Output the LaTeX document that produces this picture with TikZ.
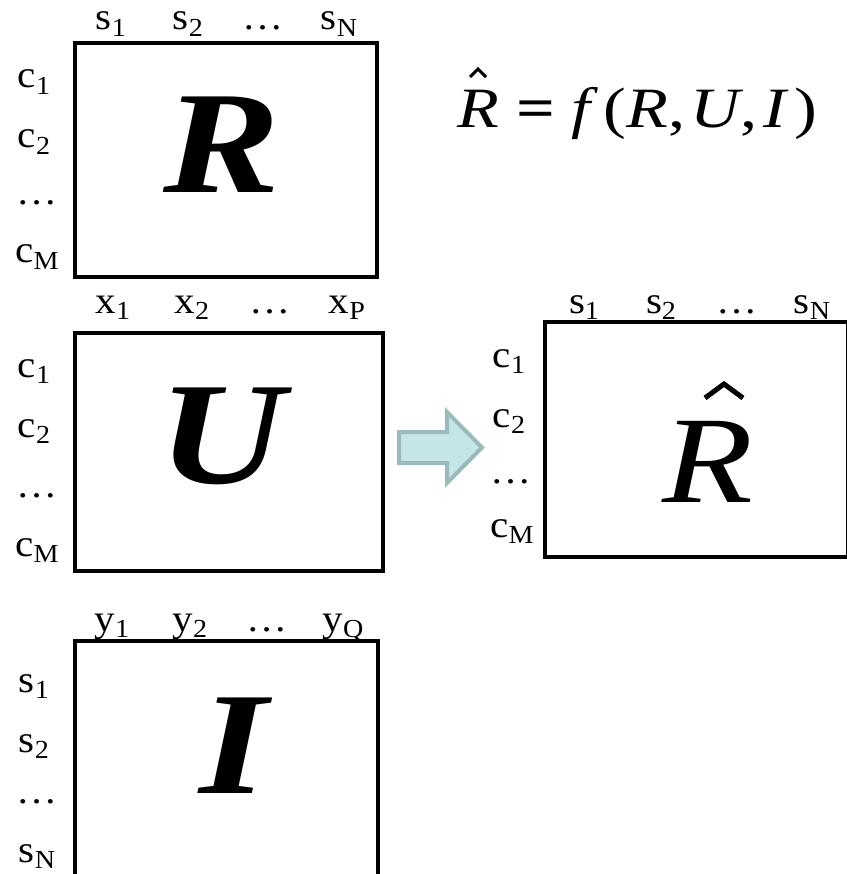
\documentclass[tikz,border=0pt]{standalone}
\usepackage{fontspec}
\setmainfont[FakeStretch=1.08]{Liberation Serif}
\newfontfamily\widefont[FakeStretch=1.2]{Liberation Serif}
\newcommand\lbl[2]{#1\raisebox{-0.17em}{\fontsize{26}{26}\selectfont #2}}
\tikzset{
  lab/.style={anchor=base, font=\fontsize{38}{38}\selectfont, inner sep=0pt},
  mat/.style={draw, line width=4.5pt, rectangle, inner sep=0pt},
  big/.style={font=\widefont\fontsize{146}{146}\selectfont\bfseries\itshape, anchor=base, inner sep=0pt},
  bigr/.style={font=\widefont\fontsize{124}{124}\selectfont\itshape, anchor=base, inner sep=0pt},
  hatmark/.style={line width=5pt, miter limit=10},
  blockarrow/.style={fill=arrowfill, draw=arrowline, line width=4pt, line join=miter}
}
\definecolor{arrowfill}{HTML}{C5E5E8}
\definecolor{arrowline}{HTML}{9DB9BC}
\begin{document}
\begin{tikzpicture}[x=1pt, y=-1pt]
\useasboundingbox (0,0) rectangle (846,874);
% R matrix
\node[mat, minimum width=302pt, minimum height=234pt] (Rbox) at (226,160) {};
\node[big] (Rl) at (222,193) {R};
\node[lab] (Rs1) at (111,30) {\lbl{s}{1}};
\node[lab] (Rs2) at (188,30) {\lbl{s}{2}};
\node[lab] (Rsd) at (263,30) {\dots};
\node[lab] (RsN) at (339,30) {\lbl{s}{N}};
\node[lab] (Rc1) at (34,88) {\lbl{c}{1}};
\node[lab] (Rc2) at (34,148) {\lbl{c}{2}};
\node[lab] (Rcd) at (37,205) {\dots};
\node[lab] (RcM) at (37,263) {\lbl{c}{M}};
% U matrix
\node[mat, minimum width=308pt, minimum height=238pt] (Ubox) at (229,452) {};
\node[big] (Ul) at (222,483) {U};
\node[lab] (Ux1) at (113,313) {\lbl{x}{1}};
\node[lab] (Ux2) at (192,313) {\lbl{x}{2}};
\node[lab] (Uxd) at (270,313) {\dots};
\node[lab] (UxP) at (347,313) {\lbl{x}{P}};
\node[lab] (Uc1) at (34,377) {\lbl{c}{1}};
\node[lab] (Uc2) at (34,437) {\lbl{c}{2}};
\node[lab] (Ucd) at (37,497) {\dots};
\node[lab] (UcM) at (37,556) {\lbl{c}{M}};
% I matrix
\node[mat, minimum width=303pt, minimum height=240pt] (Ibox) at (226.5,761) {};
\node[big] (Il) at (234,793) {I};
\node[lab] (Iy1) at (112,631) {\lbl{y}{1}};
\node[lab] (Iy2) at (190,631) {\lbl{y}{2}};
\node[lab] (Iyd) at (267,631) {\dots};
\node[lab] (IyQ) at (343,631) {\lbl{y}{Q}};
\node[lab] (Is1) at (34,692) {\lbl{s}{1}};
\node[lab] (Is2) at (34,752) {\lbl{s}{2}};
\node[lab] (Isd) at (37,803) {\dots};
\node[lab] (IsN) at (37,862) {\lbl{s}{N}};
% R-hat matrix
\node[mat, minimum width=303pt, minimum height=235pt] (Hbox) at (696.5,439.5) {};
\node[bigr] (Hl) at (708,502) {R};
\draw[hatmark] (705,398) -- (724,384) -- (743,398);
\node[lab] (Hs1) at (584,313) {\lbl{s}{1}};
\node[lab] (Hs2) at (661,313) {\lbl{s}{2}};
\node[lab] (Hsd) at (737,313) {\dots};
\node[lab] (HsN) at (812,313) {\lbl{s}{N}};
\node[lab] (Hc1) at (509,367) {\lbl{c}{1}};
\node[lab] (Hc2) at (509,427) {\lbl{c}{2}};
\node[lab] (Hcd) at (511,483) {\dots};
\node[lab] (HcM) at (512,537) {\lbl{c}{M}};
% formula
\node[anchor=base west, inner sep=0pt, font=\widefont\fontsize{57}{57}\selectfont] (F) at (457,128)
  {\textit{R}\hspace{0.3em}{\bfseries =}\hspace{0.28em}\textit{f}\hspace{0.1em}(\textit{R},\hspace{0.1em}\textit{U},\hspace{0.1em}\textit{I}\hspace{0.1em})};
\draw[line width=3pt, miter limit=10] (470,77) -- (478,69) -- (486,77);
% block arrow
\draw[blockarrow] (399,432) -- (447,432) -- (447,412) -- (482,447.5) -- (447,483) -- (447,463) -- (399,463) -- cycle;
\end{tikzpicture}
\end{document}
